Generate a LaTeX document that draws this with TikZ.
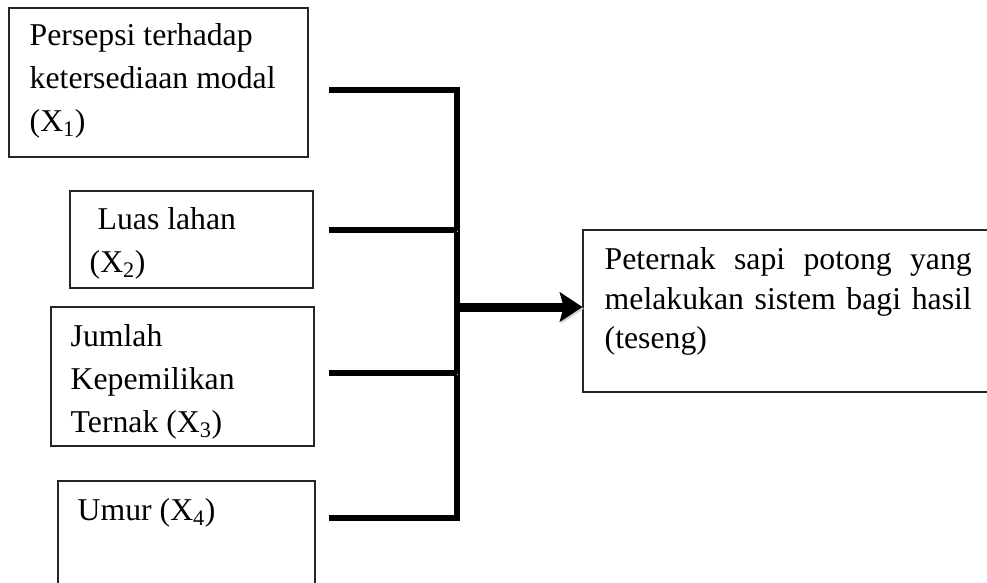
\documentclass[tikz,border=0pt]{standalone}
\usepackage{fontspec}
\setmainfont{Liberation Serif}
\usetikzlibrary{positioning,arrows.meta}

\begin{document}
\begin{tikzpicture}[x=0.75pt,y=-0.75pt,
        box/.style={draw=black!85,line width=0.8pt,inner sep=0pt},
        label/.style={inner sep=0pt,align=left,font=\fontsize{23.8}{32.25}\selectfont},
        bus/.style={line width=4pt,
            preaction={draw=black!18,transform canvas={shift={(1pt,-1.3pt)}}}},
        feed/.style={line width=6.75pt,-{Stealth[length=17pt,width=22pt,inset=3pt]},
            preaction={draw=black!18,transform canvas={shift={(1pt,-1.3pt)}}}}]
        \useasboundingbox (0,0) rectangle (987,582);
        \clip (0,0) rectangle (987,582);

        % boxes
        \node[box,minimum width=224.25pt,minimum height=111.75pt] (pers) at (158.5,82.5) {};
        \node[box,minimum width=182.25pt,minimum height=72.75pt] (luas) at (191.5,239.5) {};
        \node[box,minimum width=197.25pt,minimum height=104.25pt] (jumlah) at (182.5,376.5) {};
        \node[box,minimum width=192.75pt,minimum height=104.25pt] (umur) at (186.5,550.5) {};
        \node[box,minimum width=450pt,minimum height=121.5pt] (peternak) at (883,311) {};

        % texts
        \node[label,below right=12pt and 15.75pt of pers.north west] (perstext)
            {Persepsi terhadap\\ketersediaan modal\\(X\textsubscript{1})};
        \node[label,below right=12.75pt and 15pt of luas.north west] (luastext)
            {\hspace{6pt}Luas lahan\\(X\textsubscript{2})};
        \node[label,below right=13.5pt and 15pt of jumlah.north west] (jumlahtext)
            {Jumlah\\Kepemilikan\\Ternak (X\textsubscript{3})};
        \node[label,below right=13.5pt and 15pt of umur.north west] (umurtext)
            {Umur (X\textsubscript{4})};
        \node[label,align=justify,text width=275.25pt,font=\fontsize{23.8}{29.6}\selectfont,
            below right=13.5pt and 16.5pt of peternak.north west] (peternaktext)
            {Peternak sapi potong yang\linebreak melakukan sistem bagi hasil\linebreak (teseng)};

        % connectors
        \coordinate (s1) at (329,90);
        \coordinate (s2) at (329,230);
        \coordinate (s3) at (329,373);
        \coordinate (s4) at (329,518);
        \coordinate (hub) at (457,307);

        \draw[bus] (s1) -| (hub |- s4) -- (s4);
        \draw[bus] (s2) -- (hub |- s2);
        \draw[bus] (s3) -- (hub |- s3);
        \draw[feed] (hub) -- (hub -| peternak.west);
    \end{tikzpicture}
\end{document}
